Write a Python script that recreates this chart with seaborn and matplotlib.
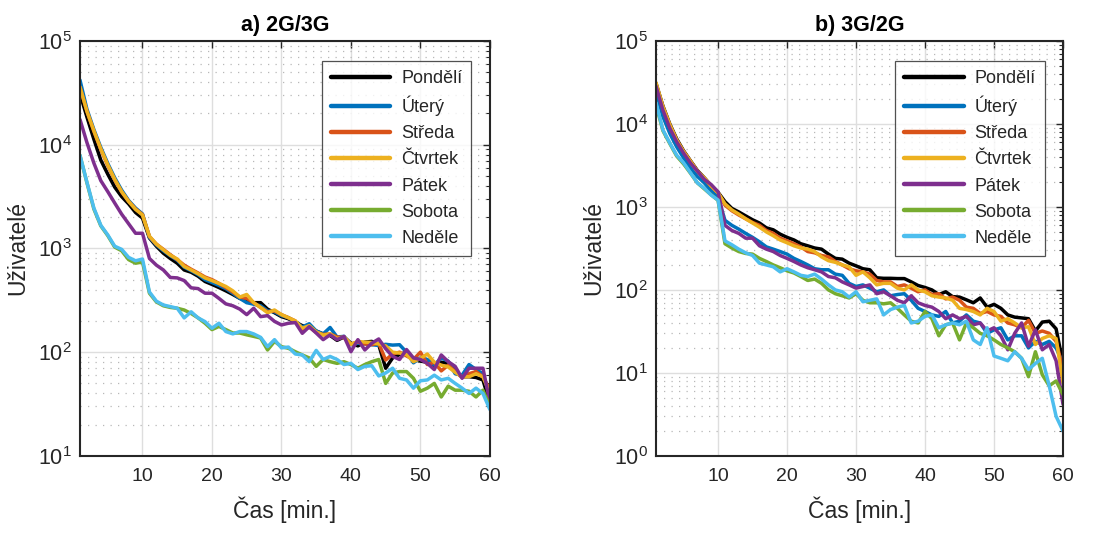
import numpy as np
import pandas as pd
import matplotlib
matplotlib.use("Agg")
import matplotlib.pyplot as plt
import matplotlib.ticker as mticker
import seaborn as sns

days = ["Pondělí", "Úterý", "Středa", "Čtvrtek", "Pátek", "Sobota", "Neděle"]
colors = ["#000000", "#0072BD", "#D95319", "#EDB120", "#7E2F8E", "#77AC30", "#4DBEEE"]
minutes = list(range(1, 61))

# ---- a) 2G/3G ----
a_po = [31000, 18500, 11300, 7100, 5200, 3900, 3160, 2690, 2220, 1960,
        1260, 1050, 900, 800, 720, 620, 590, 540, 480, 450,
        420, 390, 360, 330, 320, 300, 300, 260, 240, 220,
        210, 195, 180, 175, 160, 150, 145, 130, 140, 122,
        115, 125, 127, 118, 70, 88, 95, 100, 85, 82,
        80, 72, 80, 78, 65, 58, 58, 57, 54, 32]
a_ut = [42000, 22000, 14000, 9400, 6600, 4800, 3650, 2900, 2450, 2150,
        1280, 1080, 950, 850, 770, 660, 610, 560, 500, 470,
        440, 410, 370, 330, 300, 290, 280, 250, 245, 225,
        215, 195, 175, 188, 160, 150, 173, 140, 142, 118,
        122, 120, 118, 116, 119, 117, 118, 100, 79, 88,
        85, 75, 88, 82, 62, 60, 76, 68, 62, 38]
a_st = [36000, 21000, 13500, 9000, 6300, 4600, 3500, 2850, 2400, 2120,
        1300, 1100, 980, 870, 780, 690, 630, 580, 530, 500,
        460, 420, 380, 340, 330, 300, 270, 245, 250, 230,
        215, 200, 160, 175, 155, 148, 150, 140, 138, 120,
        125, 120, 118, 122, 84, 96, 100, 92, 85, 100,
        76, 80, 66, 75, 65, 57, 62, 65, 58, 43]
a_ct = [36000, 21000, 13600, 9100, 6400, 4640, 3530, 2840, 2380, 2100,
        1310, 1100, 970, 860, 790, 670, 620, 570, 520, 490,
        460, 430, 390, 340, 360, 300, 270, 240, 255, 230,
        215, 200, 170, 180, 157, 146, 150, 135, 141, 119,
        127, 125, 124, 120, 115, 100, 98, 95, 81, 87,
        96, 80, 75, 72, 64, 58, 58, 62, 58, 40]
a_pa = [17500, 10500, 6650, 4500, 3530, 2740, 2140, 1730, 1400, 1400,
        800, 690, 620, 525, 520, 490, 417, 410, 370, 370,
        330, 292, 280, 260, 230, 265, 220, 225, 198, 183,
        190, 193, 152, 176, 153, 132, 147, 132, 142, 101,
        132, 105, 122, 134, 108, 91, 85, 106, 88, 85,
        78, 68, 94, 81, 73, 56, 70, 70, 70, 33]
a_so = [7900, 4300, 2400, 1650, 1330, 1030, 950, 780, 720, 740,
        370, 305, 280, 270, 265, 255, 236, 214, 190, 165,
        177, 165, 153, 153, 147, 142, 137, 105, 127, 113,
        109, 101, 94, 88, 73, 85, 81, 78, 81, 76,
        70, 76, 81, 85, 50, 63, 65, 65, 56, 42,
        45, 50, 37, 47, 43, 43, 42, 37, 43, 30]
a_ne = [7900, 4350, 2450, 1670, 1350, 1050, 980, 820, 760, 790,
        380, 310, 285, 275, 265, 214, 245, 214, 197, 170,
        190, 158, 150, 158, 158, 150, 139, 113, 132, 110,
        112, 96, 94, 81, 104, 85, 91, 85, 76, 78,
        68, 73, 74, 59, 63, 70, 56, 54, 45, 53,
        54, 60, 54, 56, 50, 45, 40, 45, 40, 28]

# ---- b) 3G/2G ----
b_po = [31000, 16500, 10000, 6600, 4750, 3600, 2750, 2250, 1800, 1500,
        1160, 960, 870, 780, 700, 640, 560, 530, 470, 430,
        400, 360, 340, 320, 310, 270, 240, 235, 210, 195,
        180, 175, 140, 138, 138, 137, 137, 125, 113, 107,
        100, 88, 95, 83, 82, 76, 70, 80, 62, 67,
        60, 50, 47, 46, 45, 32, 41, 42, 34, 13]
b_ut = [24500, 12300, 7700, 5300, 3900, 2950, 2330, 1950, 1560, 1300,
        690, 600, 540, 480, 430, 380, 330, 310, 290, 270,
        240, 220, 200, 180, 175, 175, 155, 150, 120, 110,
        115, 105, 95, 100, 85, 88, 90, 75, 60, 55,
        50, 48, 55, 40, 42, 50, 42, 40, 30, 33,
        35, 25, 28, 28, 20, 24, 22, 24, 20, 13]
b_st = [30000, 16000, 9700, 6400, 4650, 3550, 2700, 2200, 1780, 1480,
        1050, 900, 800, 720, 650, 600, 520, 480, 420, 390,
        360, 330, 290, 280, 260, 250, 220, 200, 180, 170,
        165, 155, 130, 125, 125, 110, 115, 105, 95, 100,
        88, 90, 78, 82, 75, 62, 60, 52, 55, 50,
        48, 40, 38, 35, 43, 30, 32, 30, 24, 11]
b_ct = [31500, 16200, 9800, 6400, 4650, 3550, 2700, 2250, 1790, 1480,
        1090, 920, 820, 720, 640, 570, 500, 450, 400, 370,
        340, 320, 310, 290, 250, 225, 215, 200, 190, 150,
        165, 140, 115, 120, 120, 105, 100, 115, 100, 95,
        85, 82, 80, 75, 60, 58, 55, 50, 60, 55,
        42, 45, 40, 35, 36, 22, 26, 28, 26, 7.5]
b_pa = [28500, 14700, 8900, 6100, 4450, 3380, 2700, 2150, 1860, 1520,
        600, 520, 480, 420, 420, 340, 310, 290, 260, 240,
        220, 200, 185, 175, 165, 145, 140, 125, 115, 105,
        110, 115, 90, 95, 85, 75, 70, 85, 70, 65,
        62, 55, 45, 50, 45, 48, 38, 40, 32, 35,
        28, 19, 30, 40, 21, 33, 19, 22, 14, 4.2]
b_so = [17000, 8300, 5800, 4100, 3300, 2550, 1950, 1650, 1400, 1200,
        360, 320, 290, 275, 270, 240, 220, 200, 185, 170,
        160, 145, 130, 135, 120, 100, 90, 85, 80, 90,
        75, 70, 70, 68, 70, 60, 50, 42, 40, 55,
        45, 28, 38, 40, 25, 40, 35, 30, 28, 25,
        22, 20, 18, 15, 9, 18, 9.5, 7, 8, 5.5]
b_ne = [18000, 8500, 5900, 4200, 3400, 2580, 1950, 1680, 1390, 1210,
        390, 350, 310, 280, 260, 210, 200, 190, 165, 180,
        165, 150, 145, 155, 135, 115, 100, 95, 82, 95,
        72, 75, 78, 50, 58, 62, 65, 40, 42, 48,
        50, 35, 38, 40, 38, 42, 25, 22, 35, 16,
        15, 14, 18, 15, 11, 13, 15, 7, 3, 2]

series_a = [a_po, a_ut, a_st, a_ct, a_pa, a_so, a_ne]
series_b = [b_po, b_ut, b_st, b_ct, b_pa, b_so, b_ne]

def long_df(series):
    rows = []
    for d, vals in zip(days, series):
        for t, v in zip(minutes, vals):
            rows.append((d, t, v))
    return pd.DataFrame(rows, columns=["den", "cas", "uziv"])

sns.set_style("white")
plt.rcParams["font.family"] = ["Liberation Sans", "DejaVu Sans"]
plt.rcParams["mathtext.fontset"] = "custom"
plt.rcParams["mathtext.rm"] = "Liberation Sans"
plt.rcParams["mathtext.it"] = "Liberation Sans"
plt.rcParams["mathtext.bf"] = "Liberation Sans:bold"

fig = plt.figure(figsize=(11.2, 5.46), dpi=100)
ax1 = fig.add_axes([0.0714, 0.165, 0.366, 0.760])
ax2 = fig.add_axes([0.5857, 0.165, 0.3634, 0.760])

axcol = "#262626"
for ax, series, title, ylim in [(ax1, series_a, "a) 2G/3G", (10, 1e5)),
                                (ax2, series_b, "b) 3G/2G", (1, 1e5))]:
    df = long_df(series)
    sns.lineplot(data=df, x="cas", y="uziv", hue="den", hue_order=days,
                 palette=colors, linewidth=2.5, ax=ax, legend=True)
    ax.set_yscale("log")
    ax.set_xlim(1, 60)
    ax.set_ylim(*ylim)
    ax.set_xticks([10, 20, 30, 40, 50, 60])
    ax.yaxis.set_major_locator(mticker.LogLocator(base=10, numticks=10))
    ax.yaxis.set_minor_locator(mticker.LogLocator(base=10, subs=np.arange(2, 10), numticks=20))
    ax.yaxis.set_minor_formatter(mticker.NullFormatter())
    ax.grid(True, which="major", axis="both", color="#dedede", linewidth=1.0)
    ax.grid(True, which="minor", axis="y", color="#b8b8b8", linewidth=0.9, linestyle=(0, (1, 5)))
    ax.set_axisbelow(True)
    ax.tick_params(which="both", direction="in", top=True, right=True, colors=axcol)
    ax.tick_params(axis="x", labelsize=14, pad=9)
    ax.tick_params(axis="y", labelsize=15.5, pad=6)
    ax.tick_params(which="major", length=5, width=1.0)
    ax.tick_params(which="minor", length=3, width=0.8)
    for s in ax.spines.values():
        s.set_color(axcol)
        s.set_linewidth(1.5)
    ax.set_title(title, fontsize=15.5, fontweight="bold", color="black", pad=7)
    ax.set_xlabel("Čas [min.]", fontsize=16.5, color=axcol, labelpad=8)
    ax.set_ylabel("Uživatelé", fontsize=16.5, color=axcol, labelpad=6)
    leg = ax.legend(loc="upper right", bbox_to_anchor=(0.955, 0.952), fontsize=13,
                    frameon=True, fancybox=False, handlelength=3.3, handletextpad=0.6,
                    borderpad=0.5, labelspacing=0.5, borderaxespad=0)
    leg.get_frame().set_edgecolor("#262626")
    leg.get_frame().set_linewidth(0.9)
    for line in leg.get_lines():
        line.set_linewidth(3.2)
    for txt in leg.get_texts():
        txt.set_color(axcol)

fig.savefig("out.png", dpi=100, facecolor="white")
